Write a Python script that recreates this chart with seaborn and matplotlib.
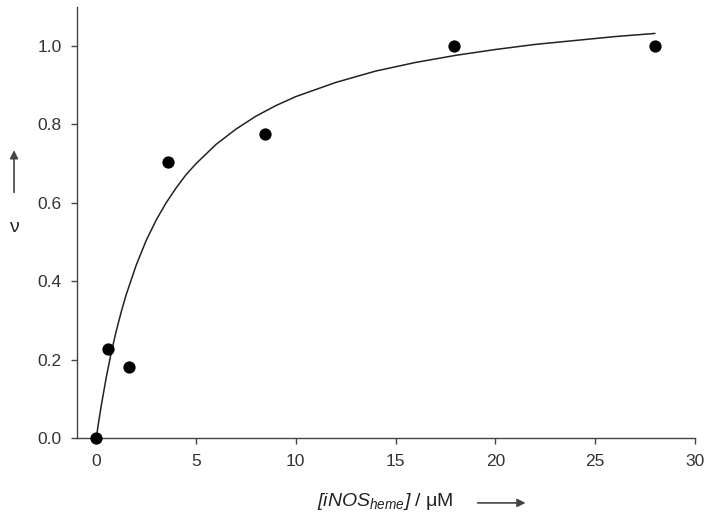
import numpy as np
import pandas as pd
import matplotlib
matplotlib.use("Agg")
import matplotlib.pyplot as plt
from matplotlib.patches import FancyArrowPatch
import seaborn as sns

# measured points (concentration in uM, fractional saturation)
conc = [0.0, 0.58, 1.65, 3.58, 8.45, 17.95, 28.0]
nu = [0.0, 0.227, 0.181, 0.705, 0.775, 1.0, 1.0]

# fitted curve
fit_x = [0.0, 0.1, 0.25, 0.5, 0.75, 1.0, 1.25, 1.5, 2.0, 2.5, 3.0, 3.5, 4.0, 4.5, 5.0,
         6.0, 7.0, 8.0, 9.0, 10.0, 12.0, 14.0, 16.0, 18.0, 20.0, 22.0, 24.0, 26.0, 28.0]
fit_y = [0.0, 0.035, 0.083, 0.155, 0.218, 0.273, 0.322, 0.366, 0.441, 0.504, 0.556,
         0.600, 0.638, 0.672, 0.700, 0.749, 0.788, 0.821, 0.848, 0.871, 0.907, 0.936,
         0.958, 0.976, 0.991, 1.004, 1.014, 1.024, 1.032]

x_ticks = [0, 5, 10, 15, 20, 25, 30]
y_ticks = [0.0, 0.2, 0.4, 0.6, 0.8, 1.0]

sns.set_style("ticks")
plt.rcParams["font.family"] = ["Liberation Sans", "DejaVu Sans"]
plt.rcParams["mathtext.fontset"] = "custom"
# italic brackets too, as in the reference
plt.rcParams["mathtext.rm"] = "Liberation Sans:italic"
plt.rcParams["mathtext.it"] = "Liberation Sans:italic"

df_pts = pd.DataFrame({"conc": conc, "nu": nu})
df_fit = pd.DataFrame({"x": fit_x, "y": fit_y})

fig = plt.figure(figsize=(7.12, 5.19), dpi=100)
ax = fig.add_axes([0.108, 0.1555, 0.868, 0.8315])

sns.lineplot(data=df_fit, x="x", y="y", ax=ax, color="#222222", linewidth=1.1,
             estimator=None, sort=False)
sns.scatterplot(data=df_pts, x="conc", y="nu", ax=ax, color="black", s=78,
                edgecolor="black", linewidth=0, clip_on=False, zorder=5)

ax.set_xlim(-0.97, 30)
ax.set_ylim(0, 1.1)
ax.set_xticks(x_ticks)
ax.set_yticks(y_ticks)
ax.set_yticklabels([f"{v:.1f}" for v in y_ticks])
ax.set_xlabel("")
ax.set_ylabel("")
for s in ["top", "right"]:
    ax.spines[s].set_visible(False)
for s in ["left", "bottom"]:
    ax.spines[s].set_color("#444444")
    ax.spines[s].set_linewidth(1.0)
ax.tick_params(direction="out", length=4.5, width=1.0, color="#444444",
               labelsize=12.5, labelcolor="#333333", pad=6.5)
ax.tick_params(axis="x", pad=7)

# axis labels with arrows, as in the original figure
fig.text(0.541, 0.033, r"$[iNOS_{heme}]$ / μM",
         ha="center", va="center", fontsize=14, color="#222222")
fig.text(0.020, 0.561, "ν", ha="center", va="center", fontsize=14, color="#222222")
arrow = dict(arrowstyle="-|>", color="#444444", lw=1.2, mutation_scale=12)
fig.add_artist(FancyArrowPatch((0.667, 0.031), (0.742, 0.031),
                               transform=fig.transFigure, **arrow))
fig.add_artist(FancyArrowPatch((0.0197, 0.624), (0.0197, 0.716),
                               transform=fig.transFigure, **arrow))

fig.savefig("out.png", dpi=100)
